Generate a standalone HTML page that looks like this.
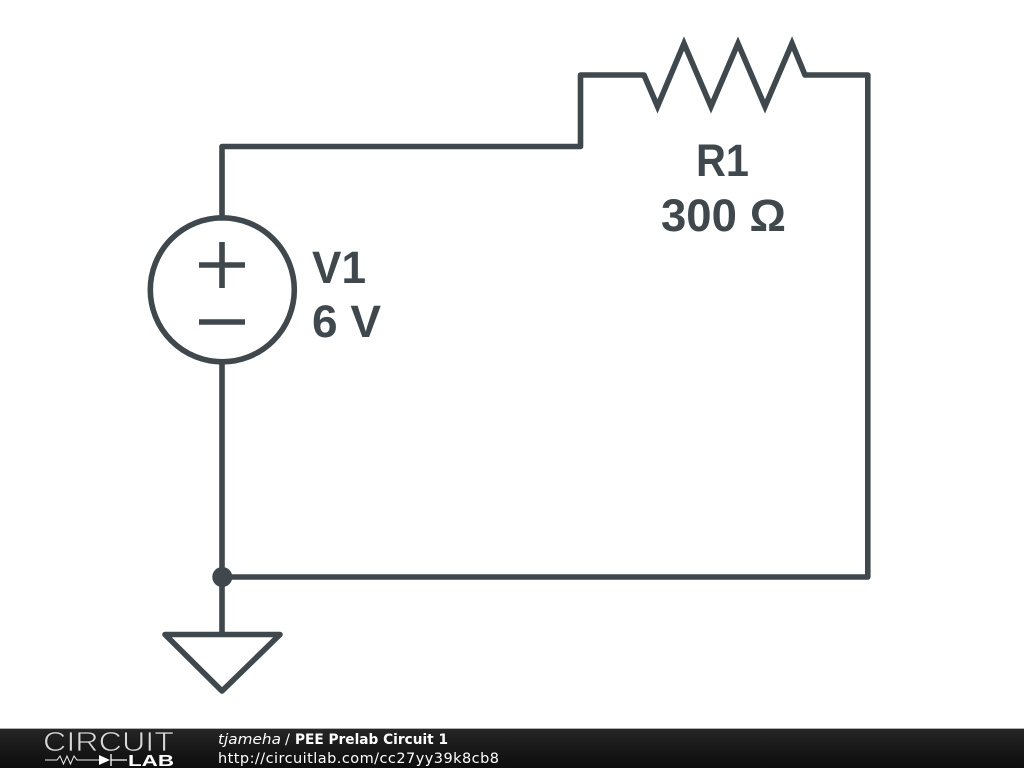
<!DOCTYPE html>
<html>
<head>
<meta charset="utf-8">
<style>
html,body{margin:0;padding:0;background:#fff;width:1024px;height:768px;overflow:hidden}
svg{display:block}
.l{font-family:"Liberation Sans",sans-serif;font-weight:700;font-size:45.500px;fill:#3f484d}
.f{font-family:"DejaVu Sans",sans-serif;font-size:14.500px;fill:#fff}
</style>
</head>
<body>
<svg width="1024" height="768" viewBox="0 0 1024 768" xmlns="http://www.w3.org/2000/svg">
<defs>
<linearGradient id="g" x1="0" y1="0" x2="0" y2="1">
<stop offset="0" stop-color="#262626"/>
<stop offset="0.5" stop-color="#181818"/>
<stop offset="1" stop-color="#0e0e0e"/>
</linearGradient>
</defs>
<rect width="1024" height="768" fill="#fff"/>
<g fill="none" stroke="#3f484d" stroke-width="5.600" stroke-linejoin="miter" stroke-linecap="round">
<path stroke-linejoin="round" d="M222 218V146.500H580.500V75H644"/>
<path stroke-linecap="butt" d="M644 75L657.500 106.500L684 43.500L711 106.500L738 43.500L765 106.500L792 43.500L805 75"/>
<path stroke-linejoin="round" d="M805 75H867.800V577H222"/>
<circle cx="222.300" cy="289.800" r="72"/>
<path stroke-linecap="butt" d="M199 265H245M222 242V288M199 322H245"/>
<path d="M222 362V634"/>
<path stroke-linejoin="round" d="M165 634.500H280L222 691Z"/>
</g>
<circle cx="222.300" cy="577" r="10" fill="#3f484d"/>
<text class="l" x="696" y="176" textLength="53" lengthAdjust="spacingAndGlyphs">R1</text>
<text class="l" x="661" y="231" textLength="125" lengthAdjust="spacingAndGlyphs">300 Ω</text>
<text class="l" x="312" y="283" textLength="54" lengthAdjust="spacingAndGlyphs">V1</text>
<text class="l" x="312" y="337" textLength="69" lengthAdjust="spacingAndGlyphs">6 V</text>
<rect x="0" y="728" width="1024" height="1" fill="#b0b0b0"/>
<rect x="0" y="729" width="1024" height="39" fill="url(#g)"/>
<text x="43" y="751" font-family="'Liberation Sans',sans-serif" font-size="28" fill="#d8d8d8" stroke="#1a1a1a" stroke-width="0.800" textLength="131" lengthAdjust="spacingAndGlyphs">CIRCUIT</text>
<path d="M45 760H57L60 756L63.500 764L67 756L70.500 764L74 756L77 760H99" fill="none" stroke="#eee" stroke-width="1"/>
<path d="M99 755L110 760L99 765Z" fill="#fff"/>
<path d="M111 754V766M111 760H127" fill="none" stroke="#fff" stroke-width="1.300"/>
<text x="128" y="766" font-family="'Liberation Sans',sans-serif" font-weight="700" font-size="16" fill="#fff" textLength="46" lengthAdjust="spacingAndGlyphs">LAB</text>
<text class="f" x="218" y="744" font-style="italic" textLength="63" lengthAdjust="spacingAndGlyphs">tjameha</text>
<text class="f" x="285" y="744">/</text>
<text class="f" x="295" y="744" font-weight="700" textLength="153" lengthAdjust="spacingAndGlyphs">PEE Prelab Circuit 1</text>
<text class="f" x="218" y="763" textLength="281">http://circuitlab.com/cc27yy39k8cb8</text>
</svg>
</body>
</html>
